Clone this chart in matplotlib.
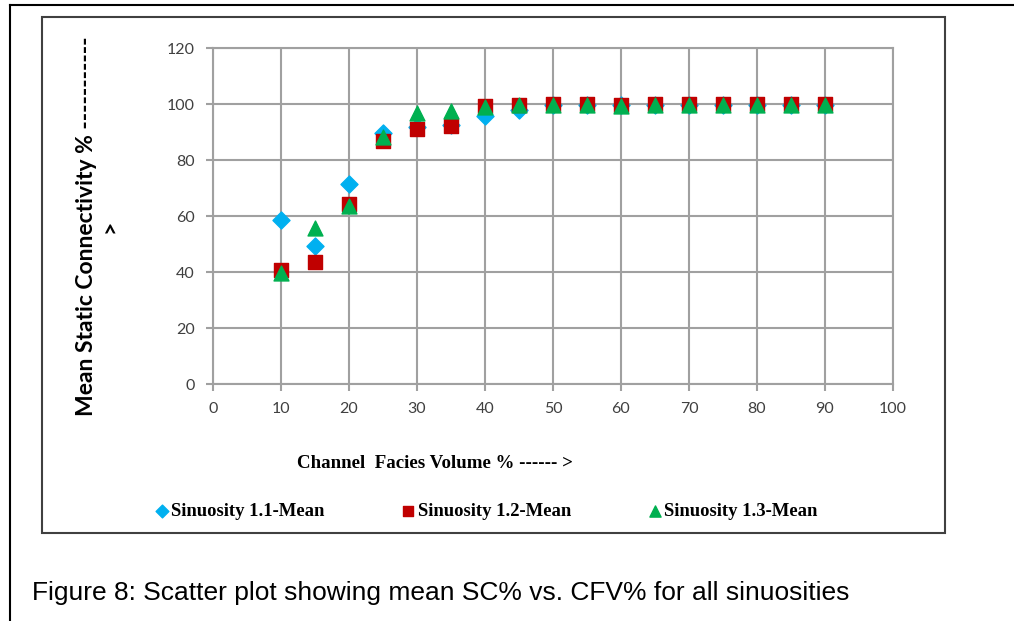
import matplotlib.pyplot as plt
from matplotlib.lines import Line2D
from matplotlib.patches import Rectangle

# Channel facies volume (%)
cfv = [10, 15, 20, 25, 30, 35, 40, 45, 50, 55, 60, 65, 70, 75, 80, 85, 90]

# Mean static connectivity (%) for each sinuosity
sc_11 = [58.6, 49.4, 71.4, 89.5, 91.7, 92.5, 95.8, 97.8, 99.5, 99.6, 99.6, 99.7, 99.8, 99.8, 99.8, 99.8, 99.8]
sc_12 = [40.7, 43.7, 64.3, 86.9, 91.0, 92.3, 99.3, 99.8, 99.9, 99.9, 99.8, 99.9, 100.0, 100.0, 100.0, 100.0, 100.0]
sc_13 = [39.8, 55.6, 63.6, 88.3, 96.8, 97.5, 98.8, 99.6, 99.6, 99.7, 99.4, 99.7, 99.8, 99.8, 99.8, 99.8, 99.8]

labels = ['Sinuosity 1.1-Mean', 'Sinuosity 1.2-Mean', 'Sinuosity 1.3-Mean']

W, H = 1014, 621
fig = plt.figure(figsize=(W / 100, H / 100), dpi=100)


def fx(px):
    return px / W


def fy(py):
    return 1 - py / H


# outer page frame and inner chart box
fig.add_artist(Line2D([fx(10), fx(10)], [fy(5), 0], color='black', lw=1.5))
fig.add_artist(Line2D([fx(10), 1], [fy(5), fy(5)], color='black', lw=1.5))
fig.add_artist(Rectangle((fx(42), fy(533)), fx(945) - fx(42), fy(17) - fy(533),
                         fill=False, edgecolor='#404040', lw=1.5))

ax = fig.add_axes([fx(213), fy(384), fx(893) - fx(213), fy(48) - fy(384)])

grid_c = '#a0a0a0'
ax.scatter(cfv, sc_11, marker='D', s=75, color='#00b0f0', label=labels[0], zorder=3)
ax.scatter(cfv, sc_12, marker='s', s=95, color='#c00000', label=labels[1], zorder=4)
ax.scatter(cfv, sc_13, marker='^', s=115, color='#00b050', label=labels[2], zorder=5)

ax.set_xlim(0, 100)
ax.set_ylim(0, 120)
ax.set_xticks(range(0, 101, 10))
ax.set_yticks(range(0, 121, 20))
ax.grid(True, color=grid_c, lw=1.5)
for s in ax.spines.values():
    s.set_color(grid_c)
    s.set_linewidth(1.5)
ax.tick_params(colors=grid_c, labelcolor='#404040', width=1.5, length=5,
               labelsize=11.5, pad=8)
for t in ax.get_xticklabels() + ax.get_yticklabels():
    t.set_family('Lato')

fig.text(fx(98), fy(226), 'Mean Static Connectivity % -----------\n>', rotation=90,
         ha='center', va='center', family='Lato', fontweight='bold', fontsize=16.5,
         multialignment='center', color='black', linespacing=1.1)

fig.text(fx(435), fy(463), 'Channel  Facies Volume % ------ >', ha='center', va='center',
         family='Liberation Serif', fontweight='bold', fontsize=13.6)

leg = fig.legend(loc='center', bbox_to_anchor=(fx(485), fy(511)), ncol=3, frameon=False,
                 prop={'family': 'Liberation Serif', 'weight': 'bold', 'size': 13.4},
                 handlelength=1.0, handletextpad=0.0, columnspacing=4.0, markerscale=0.75)

fig.text(fx(32), fy(593), 'Figure 8: Scatter plot showing mean SC% vs. CFV% for all sinuosities',
         ha='left', va='center', family='Liberation Sans', fontsize=19)

fig.savefig('out.png', dpi=100)
